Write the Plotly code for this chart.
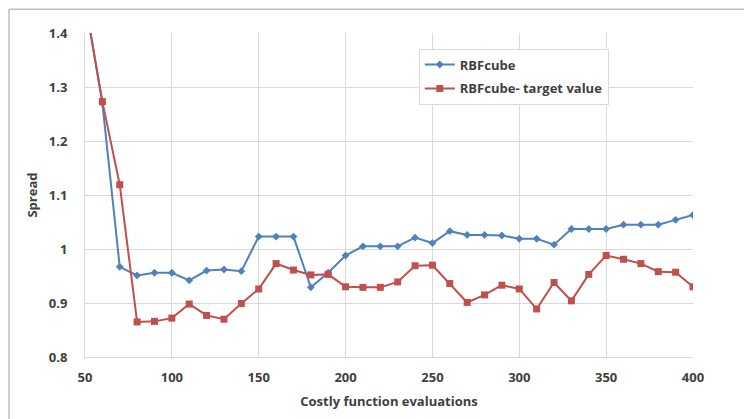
import plotly.graph_objects as go

# Spread vs. number of costly function evaluations
evals = [50, 60, 70, 80, 90, 100, 110, 120, 130, 140, 150, 160, 170, 180, 190,
         200, 210, 220, 230, 240, 250, 260, 270, 280, 290, 300, 310, 320, 330,
         340, 350, 360, 370, 380, 390, 400]

rbfcube = [1.46, 1.27, 0.967, 0.951, 0.956, 0.956, 0.942, 0.960, 0.962, 0.959,
           1.023, 1.023, 1.023, 0.929, 0.956, 0.988, 1.005, 1.005, 1.005, 1.021,
           1.011, 1.033, 1.026, 1.026, 1.025, 1.019, 1.019, 1.008, 1.037, 1.037,
           1.037, 1.045, 1.045, 1.045, 1.054, 1.063]

rbfcube_target = [1.46, 1.273, 1.119, 0.865, 0.866, 0.872, 0.898, 0.877, 0.870,
                  0.899, 0.926, 0.973, 0.961, 0.952, 0.953, 0.930, 0.929, 0.929,
                  0.939, 0.969, 0.970, 0.936, 0.901, 0.915, 0.933, 0.926, 0.889,
                  0.938, 0.904, 0.953, 0.988, 0.981, 0.973, 0.958, 0.957, 0.930]

BLUE = "#4F81BD"
RED = "#C0504D"
GRID = "#D9D9D9"
TEXT = "#404040"
FONT = "Open Sans"
SIZE = 13

fig = go.Figure()
fig.add_trace(go.Scatter(
    x=evals, y=rbfcube, name="RBFcube", mode="lines+markers",
    legendgroup="a",
    line=dict(color=BLUE, width=2),
    marker=dict(symbol="diamond", size=6, color=BLUE),
))
fig.add_trace(go.Scatter(
    x=evals, y=rbfcube_target, name="RBFcube- target value", mode="lines+markers",
    legendgroup="b",
    line=dict(color=RED, width=2),
    marker=dict(symbol="square", size=7, color=RED),
))

# chart frame (top and left edges)
frame = dict(type="line", xref="paper", yref="paper",
             line=dict(color="#BFBFBF", width=1.5), layer="below")
fig.add_shape(**frame, x0=-0.125, x1=-0.125, y0=-1, y1=1.0736)
fig.add_shape(**frame, x0=-0.125, x1=2, y0=1.0736, y1=1.0736)

axis_common = dict(
    showgrid=True, gridcolor=GRID, gridwidth=1,
    showline=True, linecolor=GRID, linewidth=1,
    zeroline=False, ticks="",
    tickfont=dict(family=FONT, size=SIZE, color=TEXT, weight="bold"),
)
title_font = dict(family=FONT, size=SIZE, color=TEXT, weight="bold")

fig.update_layout(
    width=744, height=419,
    margin=dict(l=85, r=51, t=33, b=60),
    paper_bgcolor="white", plot_bgcolor="white",
    font=dict(family=FONT, color=TEXT),
    showlegend=True,
    legend=dict(
        x=0.549, y=0.952, xanchor="left", yanchor="top",
        bgcolor="white", bordercolor="#D9D9D9", borderwidth=1,
        font=dict(family=FONT, size=SIZE, color=TEXT, weight="bold"),
        tracegroupgap=4, itemwidth=30,
    ),
    xaxis=dict(
        range=[50, 400], dtick=50, tick0=50,
        ticklabelstandoff=8,
        title=dict(text="Costly function evaluations", standoff=12,
                   font=title_font),
        **axis_common,
    ),
    yaxis=dict(
        range=[0.8, 1.4], dtick=0.1, tick0=0.8,
        ticklabelstandoff=14,
        title=dict(text="Spread", standoff=8, font=title_font),
        **axis_common,
    ),
)

fig.write_html("out.html")
